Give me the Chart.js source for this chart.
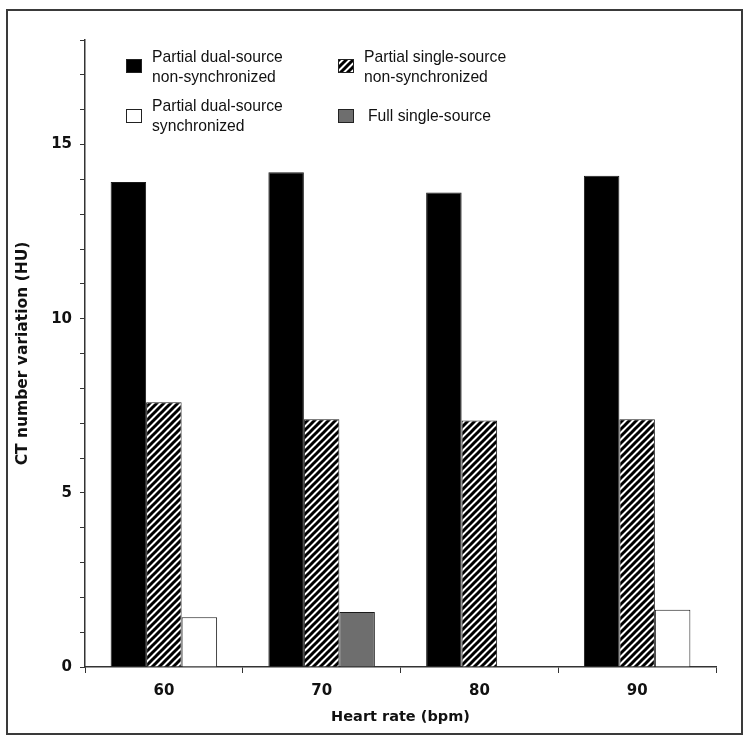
<!DOCTYPE html>
<html>
<head>
<meta charset="utf-8">
<script src="https://cdn.jsdelivr.net/npm/chart.js@4"></script>
<style>
  html, body { margin: 0; padding: 0; background: #fff; }
  #wrap { width: 750px; height: 740px; }
</style>
</head>
<body>
<div id="wrap"><canvas id="ctChart" width="750" height="740"></canvas></div>
<script>
const heartRates = ["60", "70", "80", "90"];
const dualNonSync = [13.92, 14.2, 13.62, 14.1];
const singleNonSync = [7.6, 7.11, 7.08, 7.11];
const dualSync = [1.43, null, null, 1.64];
const fullSingle = [null, 1.58, null, null];

const seriesNames = [
    ["Partial dual-source", "non-synchronized"],
    ["Partial single-source", "non-synchronized"],
    ["Partial dual-source", "synchronized"],
    ["Full single-source"]
];

function makeHatch() {
    const size = 7;
    const c = document.createElement("canvas");
    c.width = size;
    c.height = size;
    const g = c.getContext("2d");
    g.fillStyle = "#fff";
    g.fillRect(0, 0, size, size);
    g.strokeStyle = "#000";
    g.lineWidth = 3;
    g.beginPath();
    g.moveTo(-1, size + 1); g.lineTo(size + 1, -1);
    g.moveTo(-1, 1); g.lineTo(1, -1);
    g.moveTo(size - 1, size + 1); g.lineTo(size + 1, size - 1);
    g.stroke();
    return g.createPattern(c, "repeat");
}

const ctx = document.getElementById("ctChart").getContext("2d");
const hatch = makeHatch();
const fills = ["#000", hatch, "#fff", "#6e6e6e"];

const framePlugin = {
    id: "frame",
    beforeDraw(chart) {
        const c = chart.ctx;
        c.save();
        c.fillStyle = "#fff";
        c.fillRect(0, 0, chart.width, chart.height);
        c.strokeStyle = "#3a3a3a";
        c.lineWidth = 2;
        c.strokeRect(7, 10, 735, 724);
        c.restore();
    }
};

const legendPlugin = {
    id: "boxLegend",
    afterDatasetsDraw(chart) {
        const c = chart.ctx;
        const items = [
            { box: [126, 59], text: [152, 58], lines: seriesNames[0] },
            { box: [338, 59], text: [364, 58], lines: seriesNames[1] },
            { box: [126, 109], text: [152, 107], lines: seriesNames[2] },
            { box: [338, 109], text: [368, 117], lines: seriesNames[3] }
        ];
        c.save();
        items.forEach((it, i) => {
            c.fillStyle = fills[i];
            c.fillRect(it.box[0], it.box[1], 16, 14);
            c.strokeStyle = "#222";
            c.lineWidth = 1;
            c.strokeRect(it.box[0] + 0.5, it.box[1] + 0.5, 15, 13);
            c.fillStyle = "#111";
            c.font = "15.7px 'Liberation Sans', Arial, sans-serif";
            c.textBaseline = "middle";
            it.lines.forEach((ln, j) => c.fillText(ln, it.text[0], it.text[1] + j * 20));
        });
        c.restore();
    }
};

function barSet(idx, data, stack) {
    return {
        label: seriesNames[idx].join(" "),
        data,
        stack,
        backgroundColor: fills[idx],
        borderColor: "#1a1a1a",
        borderWidth: 1,
        categoryPercentage: 0.675,
        barPercentage: 1.0
    };
}

new Chart(ctx, {
    type: "bar",
    data: {
        labels: heartRates,
        datasets: [
            barSet(0, dualNonSync, "a"),
            barSet(1, singleNonSync, "b"),
            barSet(2, dualSync, "c"),
            barSet(3, fullSingle, "c")
        ]
    },
    options: {
        responsive: false,
        animation: false,
        layout: { padding: { left: 10, top: 40, right: 34, bottom: 10 } },
        plugins: {
            legend: { display: false },
            tooltip: { enabled: false }
        },
        scales: {
            x: {
                grid: {
                    offset: true,
                    drawOnChartArea: false,
                    drawTicks: true,
                    tickLength: 6,
                    color: "#333"
                },
                border: { color: "#333", width: 1.5 },
                ticks: {
                    color: "#111",
                    font: { family: "'DejaVu Sans'", size: 15, weight: "bold" },
                    padding: 9
                },
                title: {
                    display: true,
                    text: "Heart rate (bpm)",
                    color: "#111",
                    font: { family: "'DejaVu Sans'", size: 14.5, weight: "bold" },
                    padding: { top: 4 }
                },
                afterFit(scale) { scale.height = 63; }
            },
            y: {
                stacked: true,
                min: 0,
                max: 18,
                grid: {
                    drawOnChartArea: false,
                    drawTicks: true,
                    tickLength: 5,
                    color: "#333"
                },
                border: { color: "#333", width: 1.5 },
                ticks: {
                    stepSize: 1,
                    autoSkip: false,
                    color: "#111",
                    font: { family: "'DejaVu Sans'", size: 15, weight: "bold" },
                    padding: 8,
                    callback: v => (v % 5 === 0 ? v : "")
                },
                title: {
                    display: true,
                    text: "CT number variation (HU)",
                    color: "#111",
                    font: { family: "'DejaVu Sans'", size: 15.5, weight: "bold" }
                },
                afterFit(scale) { scale.width = 75; }
            }
        }
    },
    plugins: [framePlugin, legendPlugin]
});
</script>
</body>
</html>
